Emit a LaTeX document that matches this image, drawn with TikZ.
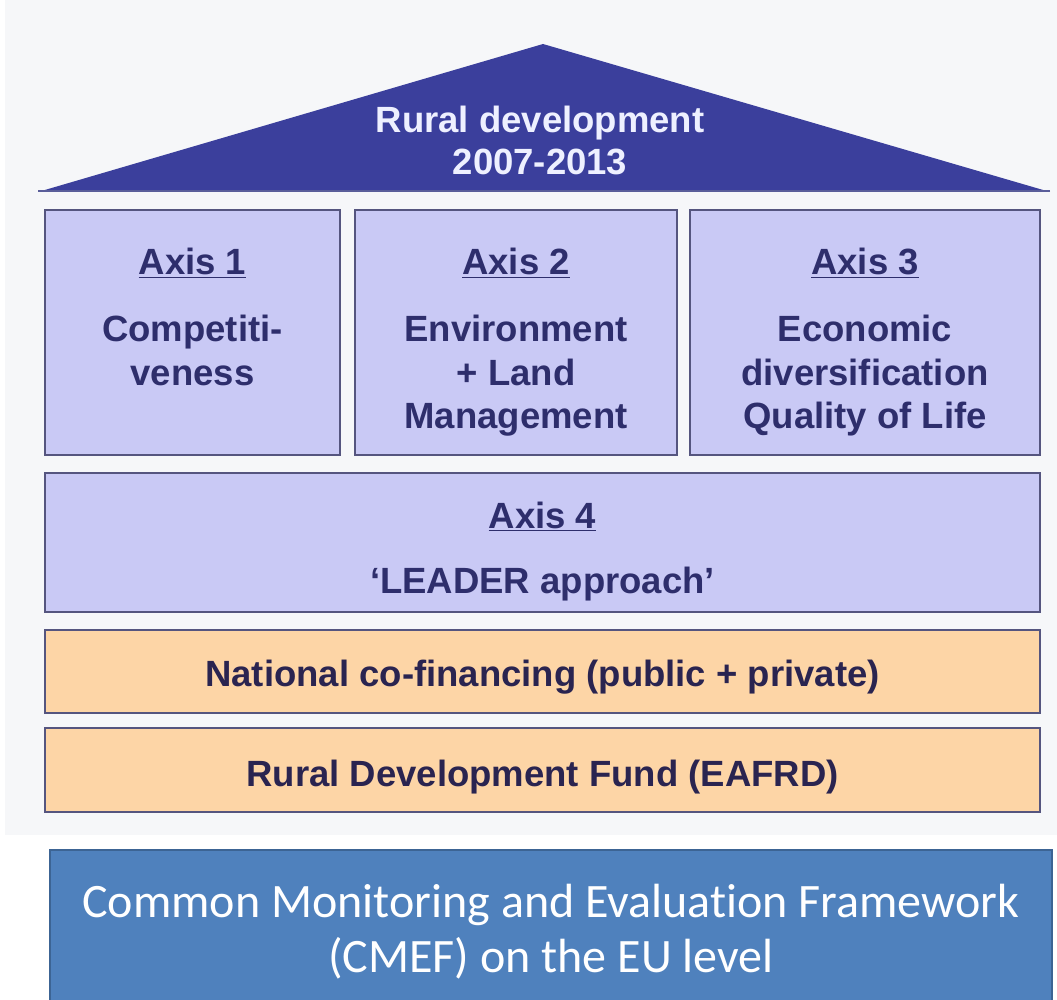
\documentclass[tikz,border=0pt]{standalone}
\usepackage{fontspec}
\setmainfont{Liberation Sans}
\newfontfamily\calfont[Ligatures=NoCommon]{Carlito}
\definecolor{bgtop}{HTML}{F6F7F9}
\definecolor{roofc}{HTML}{3B3F9C}
\definecolor{roofedge}{HTML}{5A5E9A}
\definecolor{axfill}{HTML}{C9C9F5}
\definecolor{axline}{HTML}{55557F}
\definecolor{axtext}{HTML}{2E2E6C}
\definecolor{orfill}{HTML}{FDD5A6}
\definecolor{ortext}{HTML}{2A2450}
\definecolor{cmfill}{HTML}{4F81BD}
\definecolor{cmline}{HTML}{3C6494}
\definecolor{rooftext}{HTML}{EEF0FF}
\tikzset{
  axbox/.style={draw=axline, line width=2.4pt, fill=axfill, inner sep=0pt},
  orbox/.style={draw=axline, line width=2.4pt, fill=orfill, inner sep=0pt},
  axt/.style={anchor=base, inner sep=0pt, text=axtext, font=\fontsize{36.5}{44}\selectfont\bfseries},
  ort/.style={anchor=base, inner sep=0pt, text=ortext, font=\fontsize{36.5}{44}\selectfont\bfseries},
  rooft/.style={anchor=base, inner sep=0pt, text=rooftext, font=\fontsize{36.5}{44}\selectfont\bfseries},
  cmt/.style={anchor=base, inner sep=0pt, text=white, font=\calfont\fontsize{48}{56}\selectfont},
}
\begin{document}
\begin{tikzpicture}[x=1pt,y=-1pt]
\useasboundingbox (0,0) rectangle (1057,1000);
\fill[white] (0,0) rectangle (1057,1000);
\fill[bgtop] (5,0) rectangle (1057,835);
% roof
\fill[roofc] (543,44) -- (1050,192) -- (38,192) -- cycle;
\draw[roofedge, line width=2pt] (38,191) -- (1050,191);
\node[rooft] (r1) at (540,133) {Rural development};
\node[rooft] (r2) at (540,175) {2007-2013};
% axis boxes
\node[axbox, minimum width=295pt, minimum height=245pt] (ax1) at (192.5,332.5) {};
\node[axbox, minimum width=322pt, minimum height=245pt] (ax2) at (516,332.5) {};
\node[axbox, minimum width=350pt, minimum height=245pt] (ax3) at (865,332.5) {};
\node[axbox, minimum width=995pt, minimum height=139pt] (ax4) at (542.5,542.5) {};
\node[orbox, minimum width=995pt, minimum height=83pt] (ncf) at (542.5,671.5) {};
\node[orbox, minimum width=995pt, minimum height=84pt] (rdf) at (542.5,770) {};
% axis 1
\node[axt] (a1t) at (ax1.center |- 0,275) {\underline{Axis 1}};
\node[axt] (a1a) at (ax1.center |- 0,341) {Competiti-};
\node[axt] (a1b) at (ax1.center |- 0,385) {veness};
% axis 2
\node[axt] (a2t) at (ax2.center |- 0,275) {\underline{Axis 2}};
\node[axt] (a2a) at (ax2.center |- 0,341) {Environment};
\node[axt] (a2b) at (ax2.center |- 0,385) {+ Land};
\node[axt] (a2c) at (ax2.center |- 0,428) {Management};
% axis 3
\node[axt] (a3t) at (ax3.center |- 0,275) {\underline{Axis 3}};
\node[axt] (a3a) at (ax3.center |- 0,341) {Economic};
\node[axt] (a3b) at (ax3.center |- 0,385) {diversification};
\node[axt] (a3c) at (ax3.center |- 0,428) {Quality of Life};
% axis 4
\node[axt] (a4t) at (ax4.center |- 0,528) {\underline{Axis 4}};
\node[axt] (a4a) at (ax4.center |- 0,593) {‘LEADER approach’};
% financing
\node[ort] (ncft) at (ncf.center |- 0,686) {National co-financing (public + private)};
\node[ort] (rdft) at (rdf.center |- 0,786) {Rural Development Fund (EAFRD)};
% CMEF
\draw[cmline, line width=2pt, fill=cmfill] (50,1010) -- (50,850) -- (1052,850) -- (1052,1010);
\node[cmt] (cm1) at (551,917) {Common Monitoring and Evaluation Framework};
\node[cmt] (cm2) at (551,972) {(CMEF) on the EU level};
\end{tikzpicture}
\end{document}
